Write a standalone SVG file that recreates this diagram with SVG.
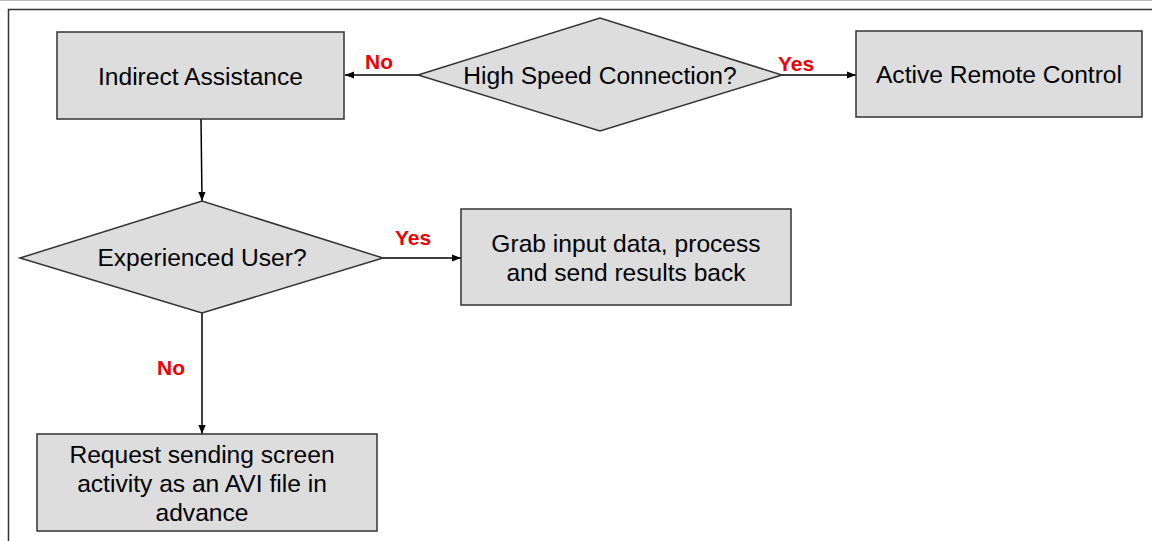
<svg xmlns="http://www.w3.org/2000/svg" width="1152" height="541" viewBox="0 0 1152 541">
<defs>
<marker id="ah" viewBox="0 0 10 10" refX="10" refY="5" markerWidth="9" markerHeight="9" markerUnits="userSpaceOnUse" orient="auto">
<path d="M0,1 L10,5 L0,9 Z" fill="#000"/>
</marker>
<style>
.box{fill:#dddddd;stroke:#333;stroke-width:1.5}
.t{font-family:"Liberation Sans",Arial,sans-serif;font-size:24.6px;fill:#000;text-anchor:middle}
.lbl{font-family:"Liberation Sans",Arial,sans-serif;font-size:21px;font-weight:bold;fill:#f00000;text-anchor:middle}
.c{stroke:#000;stroke-width:1.5;fill:none;marker-end:url(#ah)}
</style>
</defs>
<rect width="1152" height="541" fill="#fff"/>
<line x1="0" y1="0.5" x2="1152" y2="0.5" stroke="#bbb" stroke-width="1"/>
<rect x="8.5" y="9.5" width="1160" height="560" fill="none" stroke="#333" stroke-width="1.5"/>
<g id="connectors">
<line class="c" x1="418" y1="75" x2="345" y2="75"/>
<line class="c" x1="782" y1="75" x2="856" y2="75"/>
<line class="c" x1="201" y1="119" x2="202" y2="201"/>
<line class="c" x1="383" y1="258" x2="461" y2="258"/>
<line class="c" x1="202" y1="313" x2="202" y2="434"/>
<text class="lbl" x="379" y="69">No</text>
<text class="lbl" x="796" y="71">Yes</text>
<text class="lbl" x="413" y="245">Yes</text>
<text class="lbl" x="171" y="375">No</text>
</g>
<g id="indirect">
<rect class="box" x="57" y="32" width="287" height="87"/>
<text class="t" x="200.5" y="85">Indirect Assistance</text>
</g>
<g id="highspeed">
<polygon class="box" points="418,75 600,18 782,75 600,131"/>
<text class="t" x="600" y="84">High Speed Connection?</text>
</g>
<g id="active">
<rect class="box" x="856" y="31" width="286" height="86"/>
<text class="t" x="999" y="83">Active Remote Control</text>
</g>
<g id="experienced">
<polygon class="box" points="20,258 202,201 383,258 202,313"/>
<text class="t" x="202" y="266">Experienced User?</text>
</g>
<g id="grab">
<rect class="box" x="461" y="209" width="330" height="96"/>
<text class="t" x="626" y="252">Grab input data, process</text>
<text class="t" x="626" y="281">and send results back</text>
</g>
<g id="request">
<rect class="box" x="37" y="434" width="340" height="97"/>
<text class="t" x="202" y="463">Request sending screen</text>
<text class="t" x="202" y="492">activity as an AVI file in</text>
<text class="t" x="202" y="521">advance</text>
</g>
</svg>
